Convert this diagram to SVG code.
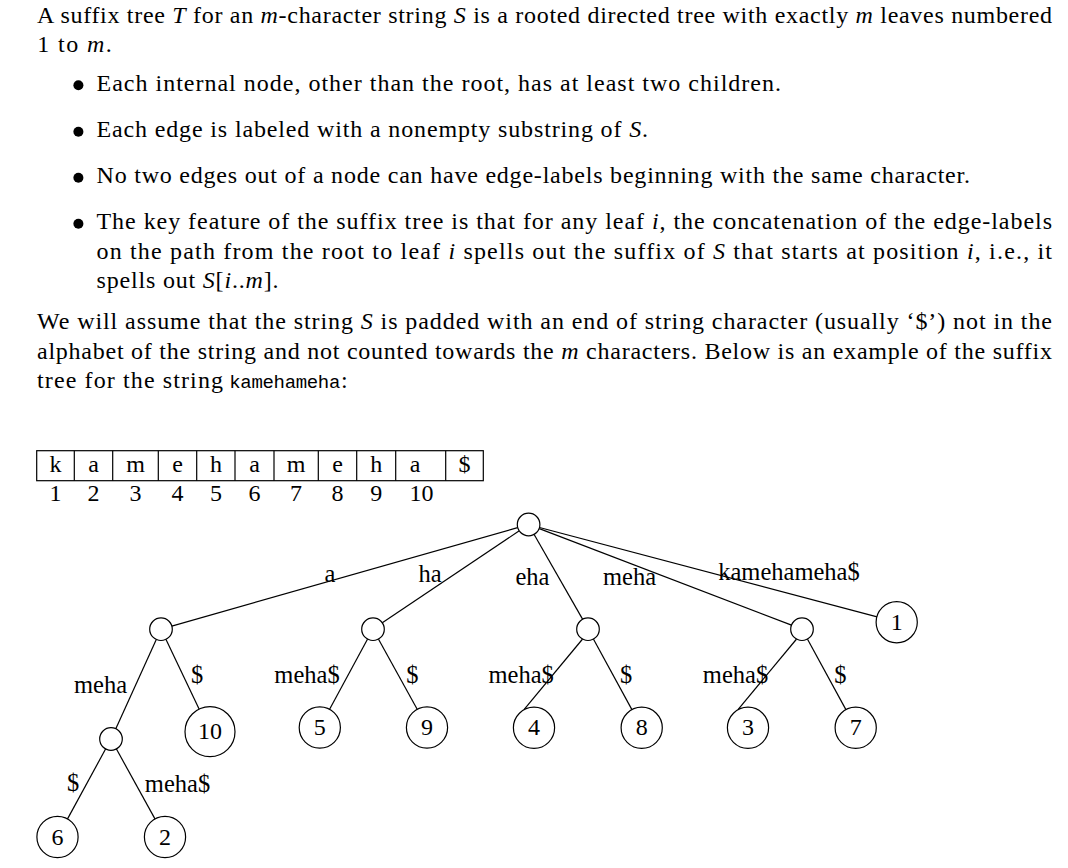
<svg xmlns="http://www.w3.org/2000/svg" width="1068" height="868" viewBox="0 0 1068 868">
<style>
.t{font-family:"Liberation Serif","Times New Roman",serif;font-size:24px;fill:#000}
.i{font-style:italic}
.tt{font-family:"Liberation Mono","Courier New",monospace;font-size:19px;fill:#000}
.c{text-anchor:middle}
.lb{font-family:"Liberation Serif","Times New Roman",serif;font-size:24.5px;fill:#000;text-anchor:middle}
.n{fill:#fff;stroke:#000;stroke-width:1.2}
.e{stroke:#000;stroke-width:1.2;fill:none}
.bul{fill:#000}
</style>
<rect width="1068" height="868" fill="#fff"/>
<g id="body-text">
<text class="t" x="37" y="22.7" textLength="1015" lengthAdjust="spacing">A suffix tree <tspan class="i">T</tspan> for an <tspan class="i">m</tspan>-character string <tspan class="i">S</tspan> is a rooted directed tree with exactly <tspan class="i">m</tspan> leaves numbered</text>
<text class="t" x="37.3" y="51.7" textLength="74.4" lengthAdjust="spacing">1 to <tspan class="i">m</tspan>.</text>
<circle class="bul" cx="78.4" cy="85.2" r="5"/>
<circle class="bul" cx="78.4" cy="131.8" r="5"/>
<circle class="bul" cx="78.4" cy="177.8" r="5"/>
<circle class="bul" cx="78.4" cy="223.8" r="5"/>
<text class="t" x="96.5" y="90.7" textLength="684.5" lengthAdjust="spacing">Each internal node, other than the root, has at least two children.</text>
<text class="t" x="96.5" y="137.3" textLength="551.5" lengthAdjust="spacing">Each edge is labeled with a nonempty substring of <tspan class="i">S</tspan>.</text>
<text class="t" x="96.5" y="183.3" textLength="873.5" lengthAdjust="spacing">No two edges out of a node can have edge-labels beginning with the same character.</text>
<text class="t" x="96.5" y="229.3" textLength="955.5" lengthAdjust="spacing">The key feature of the suffix tree is that for any leaf <tspan class="i">i</tspan>, the concatenation of the edge-labels</text>
<text class="t" x="96.5" y="258.6" textLength="955.5" lengthAdjust="spacing">on the path from the root to leaf <tspan class="i">i</tspan> spells out the suffix of <tspan class="i">S</tspan> that starts at position <tspan class="i">i</tspan>, i.e., it</text>
<text class="t" x="96.5" y="288" textLength="182" lengthAdjust="spacing">spells out <tspan class="i">S</tspan>[<tspan class="i">i</tspan>..<tspan class="i">m</tspan>].</text>
<text class="t" x="37" y="329.3" textLength="1015" lengthAdjust="spacing">We will assume that the string <tspan class="i">S</tspan> is padded with an end of string character (usually ‘$’) not in the</text>
<text class="t" x="37" y="358.5" textLength="1015" lengthAdjust="spacing">alphabet of the string and not counted towards the <tspan class="i">m</tspan> characters. Below is an example of the suffix</text>
<text class="t" x="37" y="387.5" textLength="186" lengthAdjust="spacing">tree for the string</text>
<text class="tt" x="229.3" y="387.5" textLength="111" lengthAdjust="spacing">kamehameha</text>
<text class="t" x="341" y="387.5">:</text>
</g>
<g id="string-table">
<rect x="36.7" y="450.7" width="446.6" height="30" fill="none" stroke="#000" stroke-width="1.2"/>
<path class="e" d="M74.3 450.7V480.7M112.7 450.7V480.7M158.3 450.7V480.7M196.7 450.7V480.7M235 450.7V480.7M274 450.7V480.7M318.3 450.7V480.7M356.7 450.7V480.7M395.7 450.7V480.7M445.7 450.7V480.7"/>
<g class="t c">
<text x="55.5" y="471.7">k</text>
<text x="93.5" y="471.7">a</text>
<text x="135.5" y="471.7">m</text>
<text x="177.5" y="471.7">e</text>
<text x="216" y="471.7">h</text>
<text x="254.5" y="471.7">a</text>
<text x="296" y="471.7">m</text>
<text x="337.5" y="471.7">e</text>
<text x="376.2" y="471.7">h</text>
<text x="415" y="471.7">a</text>
<text x="464.5" y="471.7">$</text>
<text x="55.5" y="500.7">1</text>
<text x="93.5" y="500.7">2</text>
<text x="135.5" y="500.7">3</text>
<text x="177.5" y="500.7">4</text>
<text x="216" y="500.7">5</text>
<text x="254.5" y="500.7">6</text>
<text x="296" y="500.7">7</text>
<text x="337.5" y="500.7">8</text>
<text x="376.2" y="500.7">9</text>
<text x="421.5" y="500.7">10</text>
</g>
</g>
<g id="connectors">
<line class="e" x1="517.6" y1="527.6" x2="171.8" y2="626.1"/>
<line class="e" x1="519.3" y1="530.8" x2="382.3" y2="622.8"/>
<line class="e" x1="534" y1="534.3" x2="582.7" y2="619.4"/>
<line class="e" x1="539.3" y1="528.6" x2="791.5" y2="625.1"/>
<line class="e" x1="539.5" y1="527.5" x2="877.1" y2="616.9"/>
<line class="e" x1="156.3" y1="639.4" x2="115.7" y2="728.9"/>
<line class="e" x1="165.9" y1="639.2" x2="199.2" y2="709.2"/>
<line class="e" x1="105.7" y1="748.8" x2="67.4" y2="819.1"/>
<line class="e" x1="116.3" y1="748.8" x2="155.1" y2="819.1"/>
<line class="e" x1="367.6" y1="639" x2="329.6" y2="709.3"/>
<line class="e" x1="378.4" y1="639" x2="417.2" y2="709.3"/>
<line class="e" x1="582.6" y1="639" x2="524" y2="709.6"/>
<line class="e" x1="593.4" y1="639" x2="631.9" y2="709.6"/>
<line class="e" x1="796.6" y1="639" x2="738" y2="709.6"/>
<line class="e" x1="807.4" y1="639" x2="845.9" y2="709.6"/>
</g>
<g id="edge-labels">
<text class="lb" x="330" y="581.7">a</text>
<text class="lb" x="430" y="581.7">ha</text>
<text class="lb" x="532.5" y="585">eha</text>
<text class="lb" x="629.5" y="585">meha</text>
<text class="lb" x="789" y="580">kamehameha$</text>
<text class="lb" x="100.5" y="693.3">meha</text>
<text class="lb" x="197" y="682.5">$</text>
<text class="lb" x="307" y="682.5">meha$</text>
<text class="lb" x="412.3" y="682.5">$</text>
<text class="lb" x="521.2" y="682.5">meha$</text>
<text class="lb" x="626.2" y="682.5">$</text>
<text class="lb" x="735.5" y="682.5">meha$</text>
<text class="lb" x="840.3" y="682.5">$</text>
<text class="lb" x="73" y="791">$</text>
<text class="lb" x="177.5" y="792">meha$</text>
</g>
<g id="node-root"><circle class="n" cx="528.6" cy="524.5" r="11.3"/></g>
<g id="node-a"><circle class="n" cx="161" cy="629.2" r="11.3"/></g>
<g id="node-ha"><circle class="n" cx="373" cy="629.2" r="11.3"/></g>
<g id="node-eha"><circle class="n" cx="588" cy="629.2" r="11.3"/></g>
<g id="node-meha"><circle class="n" cx="802" cy="629.2" r="11.3"/></g>
<g id="node-ameha"><circle class="n" cx="111" cy="739" r="11.3"/></g>
<g id="leaf-1"><circle class="n" cx="896.7" cy="622.2" r="20.6"/><text class="t c" x="896.7" y="629.5">1</text></g>
<g id="leaf-10"><circle class="n" cx="210" cy="731.7" r="25"/><text class="t c" x="210" y="738.8">10</text></g>
<g id="leaf-5"><circle class="n" cx="319.8" cy="727.5" r="20.6"/><text class="t c" x="319.8" y="734.8">5</text></g>
<g id="leaf-9"><circle class="n" cx="427" cy="727.5" r="20.6"/><text class="t c" x="427" y="734.8">9</text></g>
<g id="leaf-4"><circle class="n" cx="534" cy="727.8" r="20.6"/><text class="t c" x="534" y="735">4</text></g>
<g id="leaf-8"><circle class="n" cx="641.7" cy="727.8" r="20.6"/><text class="t c" x="641.7" y="735">8</text></g>
<g id="leaf-3"><circle class="n" cx="748" cy="727.8" r="20.6"/><text class="t c" x="748" y="735">3</text></g>
<g id="leaf-7"><circle class="n" cx="855.7" cy="727.8" r="20.6"/><text class="t c" x="855.7" y="735">7</text></g>
<g id="leaf-6"><circle class="n" cx="57.5" cy="837" r="20.6"/><text class="t c" x="57.5" y="844.5">6</text></g>
<g id="leaf-2"><circle class="n" cx="165" cy="837" r="20.6"/><text class="t c" x="165" y="844.5">2</text></g>
</svg>
